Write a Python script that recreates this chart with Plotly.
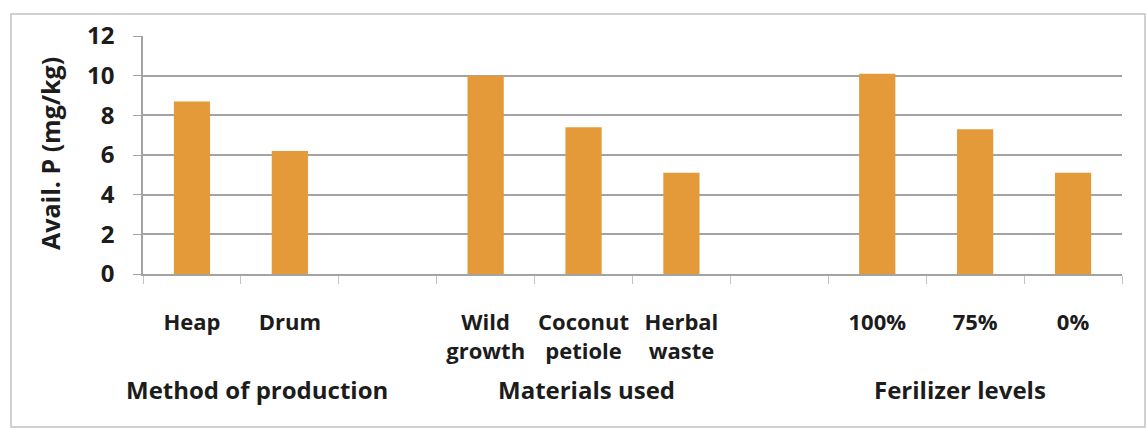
import plotly.graph_objects as go

# Available phosphorus by treatment, grouped by factor
groups = ["Method of production", "Materials used", "Ferilizer levels"]
group_labels = [
    ["Heap", "Drum"],
    ["Wild<br>growth", "Coconut<br>petiole", "Herbal<br>waste"],
    ["100%", "75%", "0%"],
]
group_values = [
    [8.7, 6.2],
    [10.0, 7.4, 5.1],
    [10.1, 7.3, 5.1],
]
y_ticks = [0, 2, 4, 6, 8, 10, 12]

# Lay groups out side by side with one empty slot between them
x_pos, labels, values = [], [], []
slot = 0
for names, vals in zip(group_labels, group_values):
    for n, v in zip(names, vals):
        x_pos.append(slot)
        labels.append(n)
        values.append(v)
        slot += 1
    slot += 1
n_slots = slot - 1

FONT = "Open Sans"
TXT = "#1c1c1c"
GRID = "#a3a3a3"
BAR = "#E49A39"

fig = go.Figure(
    go.Bar(
        x=x_pos,
        y=values,
        width=0.37,
        marker=dict(color=BAR, line=dict(width=0)),
        hoverinfo="x+y",
    )
)

W, H = 1147, 428
L, R, T, B = 143, 25, 36, 154
pw, ph = W - L - R, H - T - B

fig.update_layout(
    width=W,
    height=H,
    margin=dict(l=L, r=R, t=T, b=B),
    paper_bgcolor="white",
    plot_bgcolor="white",
    showlegend=False,
    font=dict(family=FONT, size=23, color=TXT),
    xaxis=dict(
        range=[-0.5, n_slots - 0.5],
        tickmode="array",
        tickvals=x_pos,
        ticktext=labels,
        ticks="",
        ticklabelstandoff=28,
        tickfont=dict(family=FONT, size=22, color=TXT, weight="bold"),
        showgrid=False,
        zeroline=False,
        showline=True,
        linecolor=GRID,
        linewidth=1.5,
        minor=dict(tick0=-0.5, dtick=1, ticks="outside", ticklen=8,
                   tickcolor="#c4c4c4", tickwidth=1, showgrid=False),
        fixedrange=True,
    ),
    yaxis=dict(
        range=[0, 12],
        tickmode="array",
        tickvals=y_ticks,
        ticks="outside",
        ticklen=8,
        tickcolor=GRID,
        ticklabelstandoff=14,
        tickfont=dict(family=FONT, size=24, color=TXT, weight="bold"),
        showgrid=True,
        gridcolor=GRID,
        gridwidth=1.5,
        zeroline=False,
        showline=True,
        linecolor=GRID,
        linewidth=1.5,
        fixedrange=True,
    ),
)

def px_to_paper_x(px):
    return (px - L) / pw

def px_to_paper_y(py):
    return (H - B - py) / ph

# Y axis title
fig.add_annotation(
    text="Avail. P (mg/kg)",
    textangle=-90,
    xref="paper", yref="paper",
    x=px_to_paper_x(50), y=px_to_paper_y(154),
    xanchor="center", yanchor="middle",
    showarrow=False,
    font=dict(family=FONT, size=25, color=TXT, weight="bold"),
)

# Group captions under the category labels
group_x = [0.66, 4.03, 7.85]
for name, gx in zip(groups, group_x):
    fig.add_annotation(
        text=name,
        xref="x", yref="paper",
        x=gx, y=px_to_paper_y(389),
        xanchor="center", yanchor="middle",
        showarrow=False,
        font=dict(family=FONT, size=24, color=TXT, weight="bold"),
    )

# Chart frame
fig.add_shape(
    type="rect",
    xref="paper", yref="paper",
    x0=px_to_paper_x(11), x1=px_to_paper_x(1145),
    y0=px_to_paper_y(427), y1=px_to_paper_y(14),
    line=dict(color="#c2c2c2", width=1.5),
    fillcolor="rgba(0,0,0,0)",
    layer="below",
)

fig.write_html("out.html")
